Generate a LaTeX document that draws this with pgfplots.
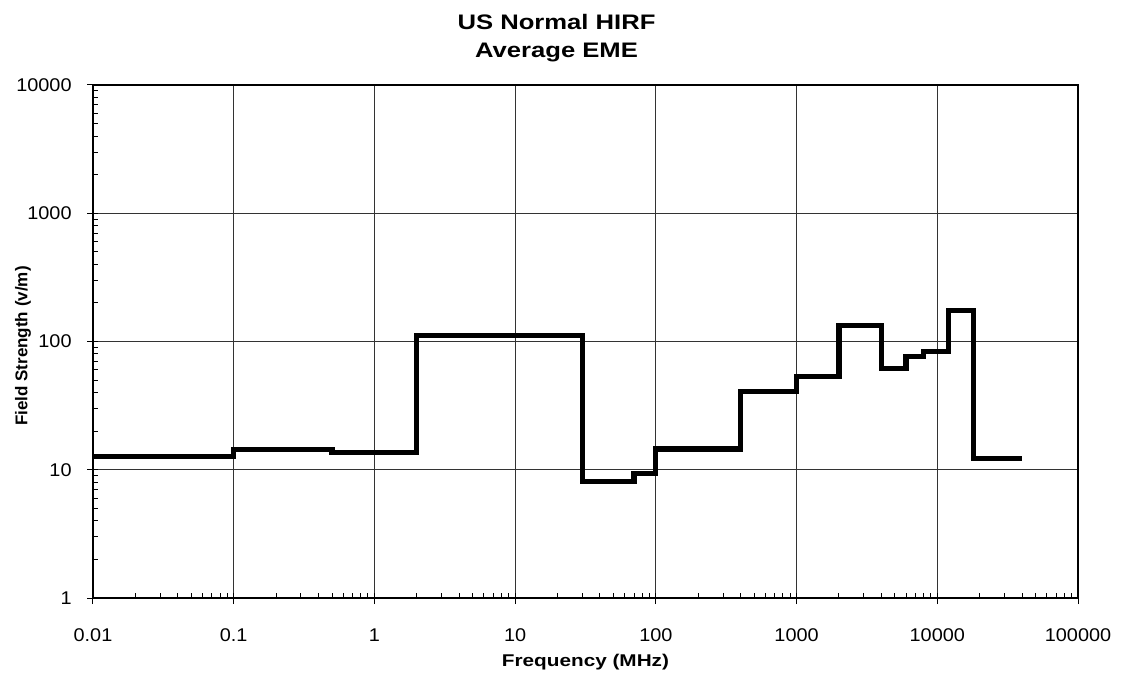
\documentclass[border=0pt]{standalone}
\usepackage{pgfplots}
\pgfplotsset{compat=1.18}
\usepackage{fontspec}
\setmainfont{Liberation Sans}
\newfontfamily\widefont[FakeStretch=1.22]{Liberation Sans}
\newfontfamily\tickfont[FakeStretch=1.08]{Liberation Sans}
\usetikzlibrary{calc}

\begin{document}
\begin{tikzpicture}
\begin{axis}[
    xmode=log, ymode=log,
    scale only axis,
    width=492.5pt, height=256.5pt,
    xmin=0.01, xmax=100000,
    ymin=1, ymax=10000,
    xtick={0.01,0.1,1,10,100,1000,10000,100000},
    xticklabels={0.01,0.1,1,10,100,1000,10000,100000},
    ytick={1,10,100,1000,10000},
    yticklabels={1,10,100,1000,10000},
    tick pos=left,
    tick align=outside,
    major tick length=3pt,
    minor tick length=-2.5pt,
    every tick/.style={black, line width=0.5pt},
    grid=major,
    major grid style={black!80, line width=0.45pt},
    axis line style={black, line width=1.4pt},
    ticklabel style={font=\tickfont\fontsize{9.2}{11}\selectfont, inner sep=0pt},
    xticklabel style={anchor=base, yshift=-18.5pt},
    yticklabel style={anchor=east, xshift=-7.5pt},
    title={US Normal HIRF\\Average EME},
    title style={font=\widefont\bfseries\fontsize{10.5}{14}\selectfont, align=center,
        at={(0.4706,1)}, anchor=south, inner sep=0pt, yshift=5.3pt},
    xlabel={Frequency (MHz)},
    ylabel={Field Strength (v/m)},
    xlabel style={font=\widefont\bfseries\fontsize{8.5}{10}\selectfont,
        at={(0.5,0)}, anchor=base, inner sep=0pt, yshift=-34pt},
    ylabel style={font=\bfseries\fontsize{8.5}{10}\selectfont,
        at={(0,0.491)}, anchor=center, inner sep=0pt, yshift=35pt},
]
\addplot[const plot mark left, black, line width=2.6pt, line join=miter] coordinates {
    (0.01,12.7) (0.1,14.3) (0.5,13.6) (2,112) (30,8.1) (70,9.3)
    (100,14.5) (400,40.8) (1000,53) (2000,134) (4000,62) (6000,76.6)
    (8000,83.8) (12000,175) (18000,12.3) (40000,12.3)
};
\end{axis}
\pgfresetboundingbox
\path[use as bounding box] ($(current axis.south west)+(-46.5pt,-40.5pt)$) rectangle ($(current axis.north east)+(22pt,42.5pt)$);
\end{tikzpicture}
\end{document}
